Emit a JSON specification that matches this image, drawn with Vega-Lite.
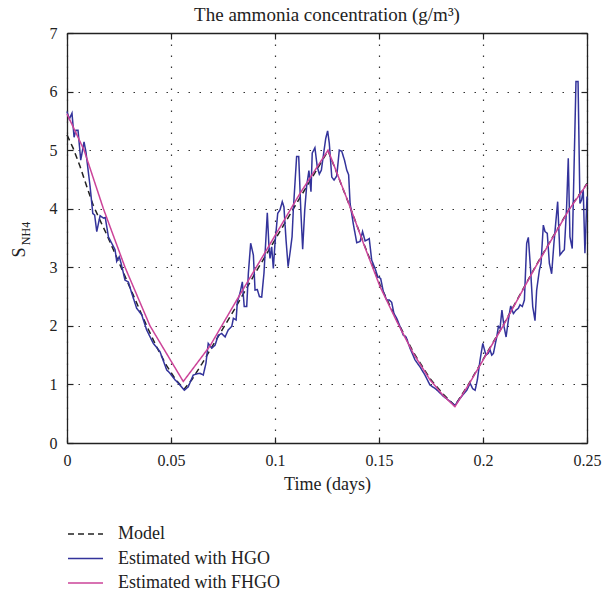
{
  "$schema": "https://vega.github.io/schema/vega-lite/v6.json",
  "autosize": {"type": "none"},
  "width": 520,
  "height": 410,
  "padding": {"left": 67, "top": 33, "right": 26, "bottom": 150},
  "background": "white",
  "config": {
    "font": "Liberation Serif",
    "view": {"stroke": null},
    "axis": {"labelFont": "Liberation Serif", "titleFont": "Liberation Serif", "labelColor": "#222", "titleColor": "#222", "domainColor": "#222", "tickColor": "#222", "labelFontSize": 16, "titleFontSize": 18, "titleFontWeight": "normal", "domainWidth": 1.3, "tickWidth": 1.2},
    "legend": {"labelFont": "Liberation Serif", "labelFontSize": 18, "labelColor": "#222", "labelLimit": 400}
  },
  "title": {"text": "The ammonia concentration (g/m³)", "fontSize": 19, "fontWeight": "normal", "color": "#222", "font": "Liberation Serif", "anchor": "middle", "frame": "group", "offset": 0},
  "data": {"values": [
    {"t": 0, "s": 5.26, "series": "Model"},
    {"t": 0.003, "s": 5.03, "series": "Model"},
    {"t": 0.0063, "s": 4.72, "series": "Model"},
    {"t": 0.0095, "s": 4.38, "series": "Model"},
    {"t": 0.0126, "s": 4.06, "series": "Model"},
    {"t": 0.0159, "s": 3.8, "series": "Model"},
    {"t": 0.0191, "s": 3.56, "series": "Model"},
    {"t": 0.0223, "s": 3.3, "series": "Model"},
    {"t": 0.0255, "s": 3.04, "series": "Model"},
    {"t": 0.0287, "s": 2.78, "series": "Model"},
    {"t": 0.0335, "s": 2.39, "series": "Model"},
    {"t": 0.0383, "s": 2.0, "series": "Model"},
    {"t": 0.0431, "s": 1.64, "series": "Model"},
    {"t": 0.0479, "s": 1.32, "series": "Model"},
    {"t": 0.0519, "s": 1.1, "series": "Model"},
    {"t": 0.0563, "s": 0.92, "series": "Model"},
    {"t": 0.06, "s": 1.08, "series": "Model"},
    {"t": 0.065, "s": 1.36, "series": "Model"},
    {"t": 0.07, "s": 1.66, "series": "Model"},
    {"t": 0.08, "s": 2.25, "series": "Model"},
    {"t": 0.09, "s": 2.87, "series": "Model"},
    {"t": 0.1, "s": 3.47, "series": "Model"},
    {"t": 0.11, "s": 4.07, "series": "Model"},
    {"t": 0.12, "s": 4.66, "series": "Model"},
    {"t": 0.1255, "s": 4.99, "series": "Model"},
    {"t": 0.1264, "s": 4.91, "series": "Model"},
    {"t": 0.1361, "s": 4.03, "series": "Model"},
    {"t": 0.1425, "s": 3.42, "series": "Model"},
    {"t": 0.1505, "s": 2.7, "series": "Model"},
    {"t": 0.1585, "s": 2.1, "series": "Model"},
    {"t": 0.1665, "s": 1.55, "series": "Model"},
    {"t": 0.1745, "s": 1.1, "series": "Model"},
    {"t": 0.1809, "s": 0.83, "series": "Model"},
    {"t": 0.1865, "s": 0.64, "series": "Model"},
    {"t": 0.193, "s": 1.0, "series": "Model"},
    {"t": 0.2095, "s": 2.0, "series": "Model"},
    {"t": 0.225, "s": 3.0, "series": "Model"},
    {"t": 0.2415, "s": 4.0, "series": "Model"},
    {"t": 0.25, "s": 4.43, "series": "Model"},

    {"t": 0, "s": 5.66, "series": "Estimated with HGO"},
    {"t": 0.0011, "s": 5.53, "series": "Estimated with HGO"},
    {"t": 0.0024, "s": 5.63, "series": "Estimated with HGO"},
    {"t": 0.0034, "s": 5.22, "series": "Estimated with HGO"},
    {"t": 0.0043, "s": 5.34, "series": "Estimated with HGO"},
    {"t": 0.0053, "s": 5.34, "series": "Estimated with HGO"},
    {"t": 0.0066, "s": 4.83, "series": "Estimated with HGO"},
    {"t": 0.0082, "s": 5.14, "series": "Estimated with HGO"},
    {"t": 0.0091, "s": 4.97, "series": "Estimated with HGO"},
    {"t": 0.0111, "s": 4.38, "series": "Estimated with HGO"},
    {"t": 0.0124, "s": 3.92, "series": "Estimated with HGO"},
    {"t": 0.0133, "s": 3.89, "series": "Estimated with HGO"},
    {"t": 0.0143, "s": 3.61, "series": "Estimated with HGO"},
    {"t": 0.0159, "s": 3.88, "series": "Estimated with HGO"},
    {"t": 0.0175, "s": 3.84, "series": "Estimated with HGO"},
    {"t": 0.0184, "s": 3.85, "series": "Estimated with HGO"},
    {"t": 0.0199, "s": 3.52, "series": "Estimated with HGO"},
    {"t": 0.0215, "s": 3.41, "series": "Estimated with HGO"},
    {"t": 0.0231, "s": 3.3, "series": "Estimated with HGO"},
    {"t": 0.0239, "s": 3.1, "series": "Estimated with HGO"},
    {"t": 0.0251, "s": 3.18, "series": "Estimated with HGO"},
    {"t": 0.026, "s": 3.07, "series": "Estimated with HGO"},
    {"t": 0.0279, "s": 2.78, "series": "Estimated with HGO"},
    {"t": 0.0295, "s": 2.75, "series": "Estimated with HGO"},
    {"t": 0.0311, "s": 2.56, "series": "Estimated with HGO"},
    {"t": 0.0335, "s": 2.3, "series": "Estimated with HGO"},
    {"t": 0.0359, "s": 2.19, "series": "Estimated with HGO"},
    {"t": 0.0383, "s": 1.93, "series": "Estimated with HGO"},
    {"t": 0.0415, "s": 1.7, "series": "Estimated with HGO"},
    {"t": 0.0447, "s": 1.56, "series": "Estimated with HGO"},
    {"t": 0.0479, "s": 1.25, "series": "Estimated with HGO"},
    {"t": 0.0495, "s": 1.19, "series": "Estimated with HGO"},
    {"t": 0.0519, "s": 1.08, "series": "Estimated with HGO"},
    {"t": 0.0543, "s": 0.99, "series": "Estimated with HGO"},
    {"t": 0.0564, "s": 0.9, "series": "Estimated with HGO"},
    {"t": 0.0583, "s": 0.96, "series": "Estimated with HGO"},
    {"t": 0.0607, "s": 1.16, "series": "Estimated with HGO"},
    {"t": 0.0624, "s": 1.18, "series": "Estimated with HGO"},
    {"t": 0.0639, "s": 1.19, "series": "Estimated with HGO"},
    {"t": 0.0655, "s": 1.16, "series": "Estimated with HGO"},
    {"t": 0.0668, "s": 1.36, "series": "Estimated with HGO"},
    {"t": 0.0679, "s": 1.7, "series": "Estimated with HGO"},
    {"t": 0.0696, "s": 1.62, "series": "Estimated with HGO"},
    {"t": 0.0712, "s": 1.67, "series": "Estimated with HGO"},
    {"t": 0.0727, "s": 1.84, "series": "Estimated with HGO"},
    {"t": 0.0744, "s": 1.87, "series": "Estimated with HGO"},
    {"t": 0.076, "s": 1.81, "series": "Estimated with HGO"},
    {"t": 0.0775, "s": 1.93, "series": "Estimated with HGO"},
    {"t": 0.0792, "s": 1.99, "series": "Estimated with HGO"},
    {"t": 0.08, "s": 2.13, "series": "Estimated with HGO"},
    {"t": 0.0813, "s": 2.1, "series": "Estimated with HGO"},
    {"t": 0.0819, "s": 2.41, "series": "Estimated with HGO"},
    {"t": 0.0832, "s": 2.56, "series": "Estimated with HGO"},
    {"t": 0.0843, "s": 2.75, "series": "Estimated with HGO"},
    {"t": 0.0852, "s": 2.33, "series": "Estimated with HGO"},
    {"t": 0.0864, "s": 2.33, "series": "Estimated with HGO"},
    {"t": 0.0872, "s": 2.9, "series": "Estimated with HGO"},
    {"t": 0.0883, "s": 3.41, "series": "Estimated with HGO"},
    {"t": 0.0896, "s": 3.21, "series": "Estimated with HGO"},
    {"t": 0.0904, "s": 2.61, "series": "Estimated with HGO"},
    {"t": 0.0915, "s": 2.62, "series": "Estimated with HGO"},
    {"t": 0.0925, "s": 2.5, "series": "Estimated with HGO"},
    {"t": 0.0936, "s": 2.49, "series": "Estimated with HGO"},
    {"t": 0.0947, "s": 2.9, "series": "Estimated with HGO"},
    {"t": 0.0955, "s": 3.41, "series": "Estimated with HGO"},
    {"t": 0.0963, "s": 3.93, "series": "Estimated with HGO"},
    {"t": 0.0971, "s": 3.35, "series": "Estimated with HGO"},
    {"t": 0.0976, "s": 3.15, "series": "Estimated with HGO"},
    {"t": 0.0984, "s": 3.35, "series": "Estimated with HGO"},
    {"t": 0.0992, "s": 2.98, "series": "Estimated with HGO"},
    {"t": 0.1, "s": 3.41, "series": "Estimated with HGO"},
    {"t": 0.1013, "s": 3.92, "series": "Estimated with HGO"},
    {"t": 0.1024, "s": 3.98, "series": "Estimated with HGO"},
    {"t": 0.1035, "s": 4.12, "series": "Estimated with HGO"},
    {"t": 0.1043, "s": 4.03, "series": "Estimated with HGO"},
    {"t": 0.1053, "s": 3.47, "series": "Estimated with HGO"},
    {"t": 0.1063, "s": 3.01, "series": "Estimated with HGO"},
    {"t": 0.1072, "s": 3.24, "series": "Estimated with HGO"},
    {"t": 0.1082, "s": 3.52, "series": "Estimated with HGO"},
    {"t": 0.1088, "s": 3.98, "series": "Estimated with HGO"},
    {"t": 0.1098, "s": 4.55, "series": "Estimated with HGO"},
    {"t": 0.1104, "s": 4.89, "series": "Estimated with HGO"},
    {"t": 0.1114, "s": 4.89, "series": "Estimated with HGO"},
    {"t": 0.1124, "s": 3.98, "series": "Estimated with HGO"},
    {"t": 0.1133, "s": 3.31, "series": "Estimated with HGO"},
    {"t": 0.1143, "s": 3.98, "series": "Estimated with HGO"},
    {"t": 0.1152, "s": 4.38, "series": "Estimated with HGO"},
    {"t": 0.1163, "s": 4.65, "series": "Estimated with HGO"},
    {"t": 0.1173, "s": 4.29, "series": "Estimated with HGO"},
    {"t": 0.1179, "s": 4.95, "series": "Estimated with HGO"},
    {"t": 0.1192, "s": 5.04, "series": "Estimated with HGO"},
    {"t": 0.1203, "s": 4.72, "series": "Estimated with HGO"},
    {"t": 0.1213, "s": 4.59, "series": "Estimated with HGO"},
    {"t": 0.1223, "s": 4.66, "series": "Estimated with HGO"},
    {"t": 0.1236, "s": 5.0, "series": "Estimated with HGO"},
    {"t": 0.1244, "s": 5.2, "series": "Estimated with HGO"},
    {"t": 0.1253, "s": 5.33, "series": "Estimated with HGO"},
    {"t": 0.1261, "s": 5.12, "series": "Estimated with HGO"},
    {"t": 0.1273, "s": 4.54, "series": "Estimated with HGO"},
    {"t": 0.1284, "s": 4.49, "series": "Estimated with HGO"},
    {"t": 0.1297, "s": 4.56, "series": "Estimated with HGO"},
    {"t": 0.1309, "s": 5.0, "series": "Estimated with HGO"},
    {"t": 0.1321, "s": 4.98, "series": "Estimated with HGO"},
    {"t": 0.1334, "s": 4.83, "series": "Estimated with HGO"},
    {"t": 0.1345, "s": 4.66, "series": "Estimated with HGO"},
    {"t": 0.1354, "s": 4.58, "series": "Estimated with HGO"},
    {"t": 0.1361, "s": 4.09, "series": "Estimated with HGO"},
    {"t": 0.1376, "s": 3.75, "series": "Estimated with HGO"},
    {"t": 0.1393, "s": 3.42, "series": "Estimated with HGO"},
    {"t": 0.1409, "s": 3.44, "series": "Estimated with HGO"},
    {"t": 0.1421, "s": 3.61, "series": "Estimated with HGO"},
    {"t": 0.1433, "s": 3.45, "series": "Estimated with HGO"},
    {"t": 0.1444, "s": 3.47, "series": "Estimated with HGO"},
    {"t": 0.1453, "s": 3.49, "series": "Estimated with HGO"},
    {"t": 0.1465, "s": 3.12, "series": "Estimated with HGO"},
    {"t": 0.1481, "s": 2.98, "series": "Estimated with HGO"},
    {"t": 0.1494, "s": 2.84, "series": "Estimated with HGO"},
    {"t": 0.1508, "s": 2.81, "series": "Estimated with HGO"},
    {"t": 0.1521, "s": 2.58, "series": "Estimated with HGO"},
    {"t": 0.1537, "s": 2.44, "series": "Estimated with HGO"},
    {"t": 0.155, "s": 2.44, "series": "Estimated with HGO"},
    {"t": 0.1561, "s": 2.4, "series": "Estimated with HGO"},
    {"t": 0.1572, "s": 2.21, "series": "Estimated with HGO"},
    {"t": 0.1585, "s": 2.13, "series": "Estimated with HGO"},
    {"t": 0.1601, "s": 1.99, "series": "Estimated with HGO"},
    {"t": 0.1617, "s": 1.84, "series": "Estimated with HGO"},
    {"t": 0.163, "s": 1.81, "series": "Estimated with HGO"},
    {"t": 0.1649, "s": 1.62, "series": "Estimated with HGO"},
    {"t": 0.1673, "s": 1.42, "series": "Estimated with HGO"},
    {"t": 0.1697, "s": 1.3, "series": "Estimated with HGO"},
    {"t": 0.1721, "s": 1.16, "series": "Estimated with HGO"},
    {"t": 0.1745, "s": 0.99, "series": "Estimated with HGO"},
    {"t": 0.1774, "s": 0.92, "series": "Estimated with HGO"},
    {"t": 0.1809, "s": 0.8, "series": "Estimated with HGO"},
    {"t": 0.1838, "s": 0.72, "series": "Estimated with HGO"},
    {"t": 0.1865, "s": 0.64, "series": "Estimated with HGO"},
    {"t": 0.1889, "s": 0.76, "series": "Estimated with HGO"},
    {"t": 0.1922, "s": 0.9, "series": "Estimated with HGO"},
    {"t": 0.1938, "s": 1.02, "series": "Estimated with HGO"},
    {"t": 0.195, "s": 0.93, "series": "Estimated with HGO"},
    {"t": 0.1962, "s": 0.9, "series": "Estimated with HGO"},
    {"t": 0.1973, "s": 1.08, "series": "Estimated with HGO"},
    {"t": 0.1986, "s": 1.42, "series": "Estimated with HGO"},
    {"t": 0.1999, "s": 1.7, "series": "Estimated with HGO"},
    {"t": 0.2014, "s": 1.5, "series": "Estimated with HGO"},
    {"t": 0.2025, "s": 1.53, "series": "Estimated with HGO"},
    {"t": 0.2034, "s": 1.59, "series": "Estimated with HGO"},
    {"t": 0.2042, "s": 1.5, "series": "Estimated with HGO"},
    {"t": 0.205, "s": 1.53, "series": "Estimated with HGO"},
    {"t": 0.2066, "s": 1.81, "series": "Estimated with HGO"},
    {"t": 0.2074, "s": 1.99, "series": "Estimated with HGO"},
    {"t": 0.2082, "s": 1.96, "series": "Estimated with HGO"},
    {"t": 0.2091, "s": 2.27, "series": "Estimated with HGO"},
    {"t": 0.2101, "s": 1.99, "series": "Estimated with HGO"},
    {"t": 0.2111, "s": 1.81, "series": "Estimated with HGO"},
    {"t": 0.2122, "s": 2.1, "series": "Estimated with HGO"},
    {"t": 0.2133, "s": 2.34, "series": "Estimated with HGO"},
    {"t": 0.2146, "s": 2.21, "series": "Estimated with HGO"},
    {"t": 0.2159, "s": 2.27, "series": "Estimated with HGO"},
    {"t": 0.217, "s": 2.3, "series": "Estimated with HGO"},
    {"t": 0.2178, "s": 2.36, "series": "Estimated with HGO"},
    {"t": 0.2189, "s": 2.33, "series": "Estimated with HGO"},
    {"t": 0.2199, "s": 2.44, "series": "Estimated with HGO"},
    {"t": 0.221, "s": 3.41, "series": "Estimated with HGO"},
    {"t": 0.2218, "s": 3.51, "series": "Estimated with HGO"},
    {"t": 0.2229, "s": 2.95, "series": "Estimated with HGO"},
    {"t": 0.2239, "s": 2.33, "series": "Estimated with HGO"},
    {"t": 0.225, "s": 2.09, "series": "Estimated with HGO"},
    {"t": 0.2258, "s": 2.61, "series": "Estimated with HGO"},
    {"t": 0.2271, "s": 2.95, "series": "Estimated with HGO"},
    {"t": 0.2279, "s": 3.07, "series": "Estimated with HGO"},
    {"t": 0.229, "s": 3.72, "series": "Estimated with HGO"},
    {"t": 0.2298, "s": 3.61, "series": "Estimated with HGO"},
    {"t": 0.2309, "s": 3.58, "series": "Estimated with HGO"},
    {"t": 0.2319, "s": 3.07, "series": "Estimated with HGO"},
    {"t": 0.233, "s": 2.89, "series": "Estimated with HGO"},
    {"t": 0.2341, "s": 3.41, "series": "Estimated with HGO"},
    {"t": 0.2351, "s": 3.81, "series": "Estimated with HGO"},
    {"t": 0.2359, "s": 4.12, "series": "Estimated with HGO"},
    {"t": 0.237, "s": 3.21, "series": "Estimated with HGO"},
    {"t": 0.2383, "s": 3.27, "series": "Estimated with HGO"},
    {"t": 0.2391, "s": 3.3, "series": "Estimated with HGO"},
    {"t": 0.2402, "s": 4.03, "series": "Estimated with HGO"},
    {"t": 0.241, "s": 4.86, "series": "Estimated with HGO"},
    {"t": 0.2418, "s": 3.52, "series": "Estimated with HGO"},
    {"t": 0.2429, "s": 3.32, "series": "Estimated with HGO"},
    {"t": 0.2447, "s": 6.17, "series": "Estimated with HGO"},
    {"t": 0.2457, "s": 6.17, "series": "Estimated with HGO"},
    {"t": 0.2466, "s": 4.09, "series": "Estimated with HGO"},
    {"t": 0.2474, "s": 4.15, "series": "Estimated with HGO"},
    {"t": 0.2482, "s": 4.32, "series": "Estimated with HGO"},
    {"t": 0.249, "s": 3.24, "series": "Estimated with HGO"},
    {"t": 0.25, "s": 4.21, "series": "Estimated with HGO"},

    {"t": 0, "s": 5.62, "series": "Estimated with FHGO"},
    {"t": 0.0082, "s": 5.0, "series": "Estimated with FHGO"},
    {"t": 0.0175, "s": 4.0, "series": "Estimated with FHGO"},
    {"t": 0.0279, "s": 3.0, "series": "Estimated with FHGO"},
    {"t": 0.0399, "s": 2.0, "series": "Estimated with FHGO"},
    {"t": 0.0559, "s": 1.05, "series": "Estimated with FHGO"},
    {"t": 0.0688, "s": 1.66, "series": "Estimated with FHGO"},
    {"t": 0.0816, "s": 2.44, "series": "Estimated with FHGO"},
    {"t": 0.096, "s": 3.3, "series": "Estimated with FHGO"},
    {"t": 0.112, "s": 4.26, "series": "Estimated with FHGO"},
    {"t": 0.1255, "s": 5.0, "series": "Estimated with FHGO"},
    {"t": 0.1264, "s": 4.92, "series": "Estimated with FHGO"},
    {"t": 0.1361, "s": 4.03, "series": "Estimated with FHGO"},
    {"t": 0.1425, "s": 3.41, "series": "Estimated with FHGO"},
    {"t": 0.1505, "s": 2.67, "series": "Estimated with FHGO"},
    {"t": 0.1585, "s": 2.08, "series": "Estimated with FHGO"},
    {"t": 0.1665, "s": 1.53, "series": "Estimated with FHGO"},
    {"t": 0.1745, "s": 1.08, "series": "Estimated with FHGO"},
    {"t": 0.1809, "s": 0.81, "series": "Estimated with FHGO"},
    {"t": 0.1865, "s": 0.62, "series": "Estimated with FHGO"},
    {"t": 0.193, "s": 0.99, "series": "Estimated with FHGO"},
    {"t": 0.2095, "s": 1.99, "series": "Estimated with FHGO"},
    {"t": 0.225, "s": 2.99, "series": "Estimated with FHGO"},
    {"t": 0.2415, "s": 3.99, "series": "Estimated with FHGO"},
    {"t": 0.25, "s": 4.42, "series": "Estimated with FHGO"}
  ]},
  "layer": [
    {
      "mark": {"type": "line", "strokeWidth": 1.5},
      "encoding": {
        "x": {"field": "t", "type": "quantitative", "scale": {"domain": [0, 0.25], "nice": false, "zero": false},
          "axis": {"title": "Time (days)", "values": [0, 0.05, 0.1, 0.15, 0.2, 0.25], "format": "~g", "tickSize": -6, "labelPadding": 15, "titlePadding": 7, "grid": true, "gridDash": [1.5, 9.5], "gridColor": "#333", "gridWidth": 1.2, "labelFlush": false}},
        "y": {"field": "s", "type": "quantitative", "scale": {"domain": [0, 7], "nice": false, "zero": false},
          "axis": {"title": "S", "values": [0, 1, 2, 3, 4, 5, 6, 7], "tickSize": -6, "labelPadding": 16, "grid": true, "gridDash": [1.5, 9.5], "gridColor": "#333", "gridWidth": 1.2, "titleFontSize": 18, "titleAngle": -90, "titleBaseline": "alphabetic", "titleAlign": "center", "titleX": -43, "titleY": 219, "labelFlush": false}},
        "color": {"field": "series", "type": "nominal", "scale": {"domain": ["Model", "Estimated with HGO", "Estimated with FHGO"], "range": ["#222222", "#33339b", "#cc4499"]},
          "legend": {"title": null, "orient": "none", "legendX": 0, "legendY": 493, "symbolType": "stroke", "symbolSize": 1225, "symbolStrokeWidth": 1.5, "clipHeight": 16, "rowPadding": 6.5, "labelOffset": 14, "labelLimit": 400}},
        "strokeDash": {"field": "series", "type": "nominal", "scale": {"domain": ["Model", "Estimated with HGO", "Estimated with FHGO"], "range": [[6, 4], [1, 0], [1, 0]]},
          "legend": {"title": null, "orient": "none", "legendX": 0, "legendY": 493, "symbolType": "stroke", "symbolSize": 1225, "symbolStrokeWidth": 1.5, "clipHeight": 16, "rowPadding": 6.5, "labelOffset": 14, "labelLimit": 400}}
      }
    },
    {
      "mark": {"type": "line", "opacity": 0},
      "encoding": {
        "x": {"field": "t", "type": "quantitative", "scale": {"domain": [0, 0.25], "nice": false, "zero": false},
          "axis": {"orient": "top", "title": null, "labels": false, "values": [0, 0.05, 0.1, 0.15, 0.2, 0.25], "tickSize": -6, "grid": false}},
        "y": {"field": "s", "type": "quantitative", "scale": {"domain": [0, 7], "nice": false, "zero": false},
          "axis": {"orient": "right", "title": null, "labels": false, "values": [0, 1, 2, 3, 4, 5, 6, 7], "tickSize": -6, "grid": false}}
      }
    },
    {
      "mark": {"type": "line", "opacity": 0},
      "encoding": {
        "x": {"field": "t", "type": "quantitative", "scale": {"domain": [0, 0.25], "nice": false, "zero": false}, "axis": null},
        "y": {"field": "s", "type": "quantitative", "scale": {"domain": [0, 7], "nice": false, "zero": false},
          "axis": {"orient": "left", "title": "NH4", "labels": false, "ticks": false, "domain": false, "grid": false, "titleFontSize": 12, "titleAngle": -90, "titleBaseline": "alphabetic", "titleAlign": "center", "titleX": -38, "titleY": 200}}
      }
    }
  ],
  "resolve": {"scale": {"x": "independent", "y": "independent"}}
}
